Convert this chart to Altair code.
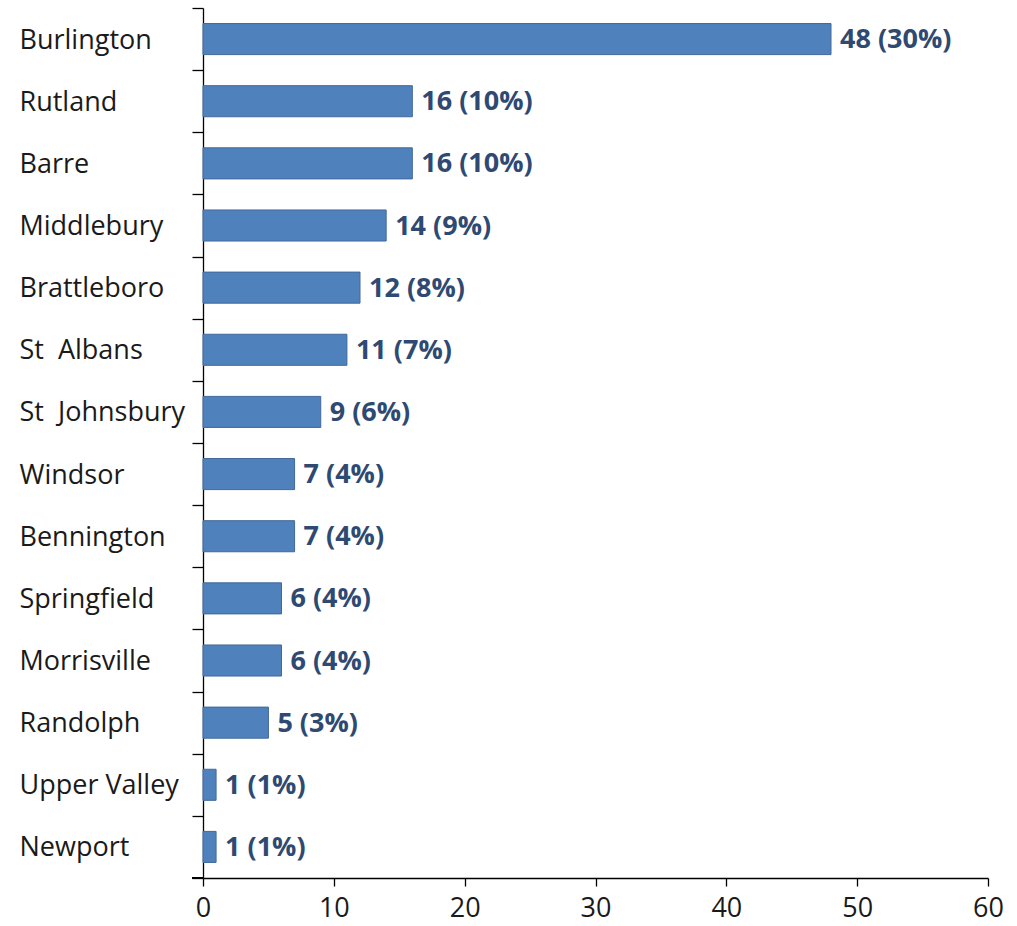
import altair as alt
import pandas as pd

# Centres and their counts / shares
centres = ["Burlington", "Rutland", "Barre", "Middlebury", "Brattleboro", "St\u00a0 Albans",
           "St\u00a0 Johnsbury", "Windsor", "Bennington", "Springfield", "Morrisville",
           "Randolph", "Upper Valley", "Newport"]
counts = [48, 16, 16, 14, 12, 11, 9, 7, 7, 6, 6, 5, 1, 1]
shares = [30, 10, 10, 9, 8, 7, 6, 4, 4, 4, 4, 3, 1, 1]

df = pd.DataFrame({"centre": centres, "count": counts, "share": shares})
df["label"] = [f"{c} ({s}%)" for c, s in zip(counts, shares)]

FONT = "Open Sans"
FS = 27
W, H = 785, 870

y_enc = alt.Y(
    "centre:N",
    sort=centres,
    scale=alt.Scale(paddingInner=0, paddingOuter=0),
    axis=alt.Axis(
        title=None,
        labelAlign="left",
        labelPadding=173,
        labelOffset=1,
        labelFont=FONT,
        labelFontSize=FS,
        labelColor="#1a1a1a",
        tickSize=11,
        tickColor="#000000",
        domainColor="#000000",
        tickBand="extent",
        labelLimit=300,
        domainWidth=1.3,
        tickWidth=1.3,
    ),
)
x_enc = alt.X(
    "count:Q",
    scale=alt.Scale(domain=[0, 60], nice=False),
    axis=alt.Axis(
        title=None,
        values=[0, 10, 20, 30, 40, 50, 60],
        grid=False,
        labelFlush=False,
        labelFont=FONT,
        labelFontSize=FS,
        labelColor="#1a1a1a",
        labelPadding=9,
        tickSize=8,
        tickColor="#000000",
        domainColor="#000000",
        domainWidth=1.3,
        tickWidth=1.3,
    ),
)

bars = alt.Chart(df).mark_bar(
    color="#4F81BD", stroke="#41699A", strokeWidth=1,
    height=alt.RelativeBandSize(0.5),
).encode(x=x_enc, y=y_enc)

labels = alt.Chart(df).mark_text(
    align="left", baseline="middle", dx=9, dy=1, font=FONT, fontSize=FS,
    fontWeight="bold", color="#2F4A72",
).encode(x="count:Q", y=alt.Y("centre:N", sort=centres), text="label:N")

# short extension of the x-axis line to the left of the y axis
stub = alt.Chart(df).mark_rule(color="#000000", strokeWidth=1.3).encode(
    x=alt.value(-11), x2=alt.value(0), y=alt.value(H)
)

chart = (
    alt.layer(bars, labels, stub)
    .properties(
        width=W,
        height=H,
        background="#ffffff",
        autosize=alt.AutoSizeParams(type="none"),
        padding={"left": 203, "top": 8, "right": 29, "bottom": 48},
    )
    .configure_view(stroke=None)
)

chart.save("out.html", embed_options={"renderer": "svg", "actions": False})
